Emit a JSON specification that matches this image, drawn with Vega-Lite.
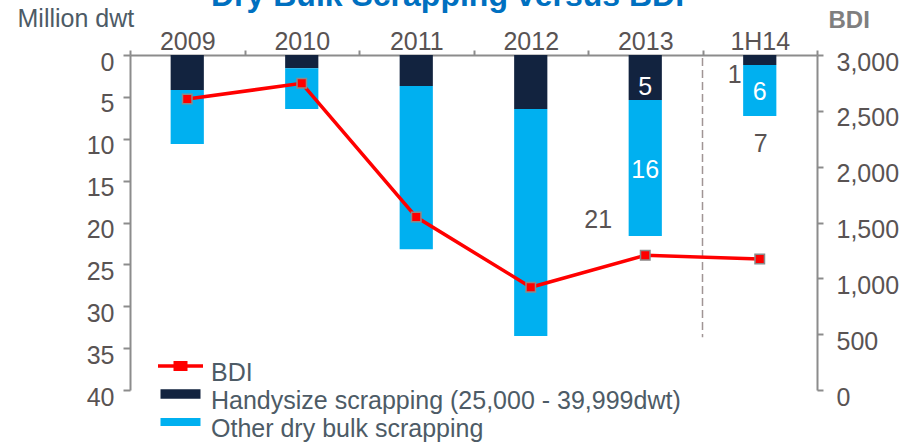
{
  "$schema": "https://vega.github.io/schema/vega-lite/v6.json",
  "width": 687,
  "height": 335,
  "autosize": {"type": "none"},
  "padding": {"left": 130, "top": 55, "right": 101, "bottom": 53},
  "background": "white",
  "title": {
    "text": "Dry Bulk Scrapping versus BDI",
    "font": "Liberation Sans",
    "fontSize": 32,
    "fontWeight": "bold",
    "color": "#0070C0",
    "anchor": "middle",
    "frame": "group",
    "dx": -26,
    "dy": 7,
    "offset": 0
  },
  "config": {
    "view": {"stroke": null},
    "font": "Liberation Sans",
    "axis": {
      "domainColor": "#8c8c8c",
      "domainWidth": 2,
      "tickColor": "#8c8c8c",
      "tickWidth": 2,
      "labelFont": "Liberation Sans",
      "labelFontSize": 25,
      "labelColor": "#595353",
      "titleFont": "Liberation Sans",
      "grid": false
    }
  },
  "datasets": {
    "scrap": [
      {"year": "2009", "series": "Handysize scrapping (25,000 - 39,999dwt)", "value": 4.18},
      {"year": "2009", "series": "Other dry bulk scrapping", "value": 6.45},
      {"year": "2010", "series": "Handysize scrapping (25,000 - 39,999dwt)", "value": 1.59},
      {"year": "2010", "series": "Other dry bulk scrapping", "value": 4.86},
      {"year": "2011", "series": "Handysize scrapping (25,000 - 39,999dwt)", "value": 3.7},
      {"year": "2011", "series": "Other dry bulk scrapping", "value": 19.5},
      {"year": "2012", "series": "Handysize scrapping (25,000 - 39,999dwt)", "value": 6.45},
      {"year": "2012", "series": "Other dry bulk scrapping", "value": 27.1},
      {"year": "2013", "series": "Handysize scrapping (25,000 - 39,999dwt)", "value": 5.37, "label": "5"},
      {"year": "2013", "series": "Other dry bulk scrapping", "value": 16.23, "label": "16"},
      {"year": "1H14", "series": "Handysize scrapping (25,000 - 39,999dwt)", "value": 1.19},
      {"year": "1H14", "series": "Other dry bulk scrapping", "value": 6.09, "label": "6"}
    ],
    "bdi": [
      {"year": "2009", "bdi": 2606},
      {"year": "2010", "bdi": 2746},
      {"year": "2011", "bdi": 1549},
      {"year": "2012", "bdi": 920},
      {"year": "2013", "bdi": 1206},
      {"year": "1H14", "bdi": 1173}
    ],
    "notes": [
      {"year": "2013", "label": "21", "value": 21.6},
      {"year": "1H14", "label": "1", "value": 1.19},
      {"year": "1H14", "label": "7", "value": 7.28}
    ]
  },
  "layer": [
    {
      "layer": [
        {
          "data": {"name": "scrap"},
          "mark": {"type": "bar", "width": {"band": 0.29}},
          "encoding": {
            "x": {
              "field": "year",
              "type": "nominal",
              "scale": {"domain": ["2009", "2010", "2011", "2012", "2013", "1H14"], "paddingInner": 0, "paddingOuter": 0},
              "axis": {"orient": "top", "title": null, "labelAngle": 0, "tickBand": "extent", "tickSize": 5, "labelPadding": -4}
            },
            "y": {
              "field": "value",
              "type": "quantitative",
              "stack": "zero",
              "scale": {"domain": [0, 40], "reverse": true, "nice": false},
              "axis": {
                "orient": "left",
                "values": [0, 5, 10, 15, 20, 25, 30, 35, 40],
                "tickSize": 7,
                "labelPadding": 9,
                "labelOffset": 7,
                "title": "Million dwt",
                "titleAngle": 0,
                "titleAlign": "left",
                "titleBaseline": "middle",
                "titleX": -113,
                "titleY": -37,
                "titleFontSize": 25,
                "titleFontWeight": "normal",
                "titleColor": "#4d5b66"
              }
            },
            "order": {"field": "series", "sort": "ascending"},
            "color": {
              "field": "series",
              "type": "nominal",
              "scale": {
                "domain": ["BDI", "Handysize scrapping (25,000 - 39,999dwt)", "Other dry bulk scrapping"],
                "range": ["#ff0000", "#12233f", "#00b0f0"]
              },
              "legend": {
                "orient": "none",
                "legendX": 38,
                "legendY": 305,
                "title": null,
                "padding": 0,
                "labelFont": "Liberation Sans",
                "labelFontSize": 25,
                "labelColor": "#4d5b66",
                "labelOffset": 18,
                "labelLimit": 700,
                "rowPadding": 2,
                "symbolSize": 400,
                "symbolStrokeWidth": 0,
                "encode": {
                  "symbols": {
                    "update": {
                      "shape": {"signal": "datum.value === 'BDI' ? 'M-2.25,-0.18H2.25V0.18H-2.25Z M-0.7,-0.5H0.7V0.5H-0.7Z' : (datum.value === 'Other dry bulk scrapping' ? 'M-2,-0.4H2V0.4H-2Z' : 'M-2,-0.47H2V0.47H-2Z')"},
                      "fill": {"scale": "color", "field": "value"},
                      "stroke": {"value": "transparent"},
                      "opacity": {"value": 1},
                      "y": {"value": 6}
                    }
                  }
                }
              }
            }
          }
        },
        {
          "data": {"name": "scrap"},
          "transform": [
            {"stack": "value", "groupby": ["year"], "sort": [{"field": "series", "order": "ascending"}], "as": ["v0", "v1"]},
            {"filter": "datum.label == '16' || datum.label == '6'"},
            {"fold": ["v0", "v1"], "as": ["edge", "pos"]}
          ],
          "mark": {"type": "text", "color": "#ffffff", "fontSize": 25, "baseline": "middle", "dy": 2},
          "encoding": {
            "x": {"field": "year", "type": "nominal"},
            "y": {"field": "pos", "type": "quantitative", "aggregate": "mean"},
            "text": {"field": "label", "type": "nominal"}
          }
        },
        {
          "data": {"name": "scrap"},
          "transform": [
            {"stack": "value", "groupby": ["year"], "sort": [{"field": "series", "order": "ascending"}], "as": ["v0", "v1"]},
            {"filter": "datum.label == '5'"},
            {"fold": ["v0", "v1"], "as": ["edge", "pos"]}
          ],
          "mark": {"type": "text", "color": "#ffffff", "fontSize": 25, "baseline": "middle", "dy": 10},
          "encoding": {
            "x": {"field": "year", "type": "nominal"},
            "y": {"field": "pos", "type": "quantitative", "aggregate": "mean"},
            "text": {"field": "label", "type": "nominal"}
          }
        },
        {
          "data": {"name": "notes"},
          "transform": [{"filter": "datum.label == '21'"}],
          "mark": {"type": "text", "color": "#595353", "fontSize": 25, "baseline": "middle", "dx": -47, "dy": -16},
          "encoding": {
            "x": {"field": "year", "type": "nominal"},
            "y": {"field": "value", "type": "quantitative"},
            "text": {"field": "label", "type": "nominal"}
          }
        },
        {
          "data": {"name": "notes"},
          "transform": [{"filter": "datum.label == '1'"}],
          "mark": {"type": "text", "color": "#595353", "fontSize": 25, "baseline": "middle", "dx": -25, "dy": 10},
          "encoding": {
            "x": {"field": "year", "type": "nominal"},
            "y": {"field": "value", "type": "quantitative"},
            "text": {"field": "label", "type": "nominal"}
          }
        },
        {
          "data": {"name": "notes"},
          "transform": [{"filter": "datum.label == '7'"}],
          "mark": {"type": "text", "color": "#595353", "fontSize": 25, "baseline": "middle", "dx": 1, "dy": 28},
          "encoding": {
            "x": {"field": "year", "type": "nominal"},
            "y": {"field": "value", "type": "quantitative"},
            "text": {"field": "label", "type": "nominal"}
          }
        },
        {
          "data": {"values": [{}]},
          "mark": {"type": "rule", "color": "#a09595", "strokeDash": [8, 4], "strokeWidth": 1.5},
          "encoding": {
            "x": {"datum": "1H14", "type": "nominal", "bandPosition": 0},
            "y": {"datum": 0.36, "type": "quantitative"},
            "y2": {"datum": 33.7}
          }
        }
      ]
    },
    {
      "data": {"name": "bdi"},
      "encoding": {
        "x": {"field": "year", "type": "nominal"},
        "y": {
          "field": "bdi",
          "type": "quantitative",
          "scale": {"domain": [0, 3000], "nice": false},
          "axis": {
            "orient": "right",
            "values": [0, 500, 1000, 1500, 2000, 2500, 3000],
            "format": ",d",
            "tickSize": 6,
            "labelPadding": 13,
            "labelOffset": 7,
            "title": "BDI",
            "titleAngle": 0,
            "titleAlign": "left",
            "titleBaseline": "middle",
            "titleX": 11,
            "titleY": -35,
            "titleFontSize": 24,
            "titleFontWeight": "bold",
            "titleColor": "#7f7f7f"
          }
        }
      },
      "layer": [
        {"mark": {"type": "line", "color": "#ff0000", "strokeWidth": 3.5}},
        {"mark": {"type": "point", "shape": "square", "filled": true, "fill": "#ff0000", "stroke": "#8a8a8a", "strokeWidth": 1.5, "size": 90, "opacity": 1}}
      ]
    }
  ],
  "resolve": {"scale": {"y": "independent"}}
}
